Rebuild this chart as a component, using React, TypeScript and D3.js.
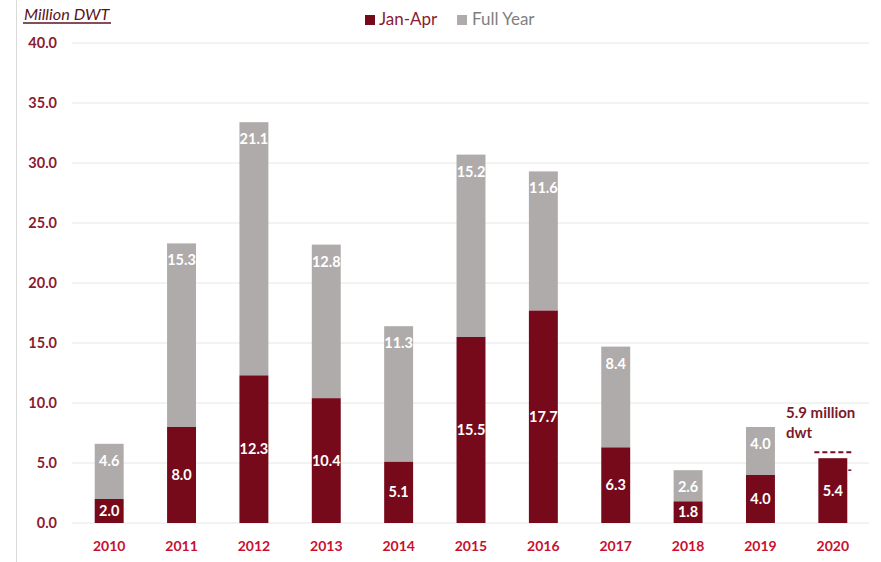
import React from "react";
import * as d3 from "d3";

const years = ["2010", "2011", "2012", "2013", "2014", "2015", "2016", "2017", "2018", "2019", "2020"];
const janApr = [2.0, 8.0, 12.3, 10.4, 5.1, 15.5, 17.7, 6.3, 1.8, 4.0, 5.4];
const fullYearRest: (number | null)[] = [4.6, 15.3, 21.1, 12.8, 11.3, 15.2, 11.6, 8.4, 2.6, 4.0, null];
const yTicks = [0, 5, 10, 15, 20, 25, 30, 35, 40];
const target2020 = 5.9;

const W = 881;
const H = 562;
const DARK = "#760a1b";
const GRAY = "#afabab";
const TICK_COLOR = "#8a1b30";
const YEAR_COLOR = "#c8102e";
const FONT = "Lato, 'Open Sans', sans-serif";

export default function App() {
  const x = d3.scaleBand<string>().domain(years).range([73, 869]).paddingInner(0.6).paddingOuter(0.3);
  const y = d3.scaleLinear().domain([0, 40]).range([523, 43]);
  const bw = x.bandwidth();
  const last = years[years.length - 1];

  return (
    <svg width={W} height={H} style={{ position: "absolute", left: 0, top: 0, background: "#fff" }} fontFamily={FONT}>
      <line x1={16.5} x2={16.5} y1={0} y2={H} stroke="#d9d9d9" strokeWidth={1} />
      {/* title */}
      <text x={24} y={20} fontSize={16.3} fontStyle="italic" fill="#5c1422">Million DWT</text>
      <line x1={23} x2={111} y1={23} y2={23} stroke="#5c1422" strokeWidth={1.3} />
      {/* legend */}
      <rect x={365} y={15} width={10} height={10} fill={DARK} />
      <text x={379} y={25} fontSize={17} fill="#8a1b30">Jan-Apr</text>
      <rect x={457} y={15} width={10} height={10} fill={GRAY} />
      <text x={472} y={25} fontSize={17} fill="#7f7f7f">Full Year</text>
      {/* grid + y ticks */}
      {yTicks.map((t) => (
        <g key={t}>
          <line x1={72} x2={869} y1={y(t)} y2={y(t)} stroke="#e6e6e6" strokeWidth={1} />
          <text x={57} y={y(t)} dy="0.35em" textAnchor="end" fontSize={14.5} fontWeight="bold" fill={TICK_COLOR}>
            {d3.format(".1f")(t)}
          </text>
        </g>
      ))}
      {/* bars */}
      {years.map((yr, i) => {
        const a = janApr[i];
        const b = fullYearRest[i];
        const x0 = x(yr)!;
        const cx = x0 + bw / 2;
        return (
          <g key={yr}>
            {b != null && (
              <>
                <rect x={x0} y={y(a + b)} width={bw} height={y(a) - y(a + b)} fill={GRAY} />
                <text x={cx} y={y(a + b) + 17} dy="0.35em" textAnchor="middle" fontSize={14.5} fontWeight="bold" fill="#fff">
                  {d3.format(".1f")(b)}
                </text>
              </>
            )}
            <rect x={x0} y={y(a)} width={bw} height={y(0) - y(a)} fill={DARK} />
            <text x={cx} y={(y(a) + y(0)) / 2} dy="0.35em" textAnchor="middle" fontSize={14.5} fontWeight="bold" fill="#fff">
              {d3.format(".1f")(a)}
            </text>
            <text x={cx} y={546} dy="0.35em" textAnchor="middle" fontSize={14} fontWeight="bold" fill={YEAR_COLOR}>
              {yr}
            </text>
          </g>
        );
      })}
      {/* 2020 annotation */}
      <line
        x1={x(last)! - 4}
        x2={x(last)! + bw + 4}
        y1={y(target2020)}
        y2={y(target2020)}
        stroke={DARK}
        strokeWidth={2}
        strokeDasharray="5,3"
      />
      <line x1={x(last)! + bw + 1} x2={x(last)! + bw + 4} y1={y(target2020) + 18} y2={y(target2020) + 18} stroke={DARK} strokeWidth={1.5} />
      <text x={786} y={418} fontSize={15} fontWeight="bold" fill="#7a1a2a">5.9 million</text>
      <text x={786} y={438} fontSize={15} fontWeight="bold" fill="#7a1a2a">dwt</text>
    </svg>
  );
}
